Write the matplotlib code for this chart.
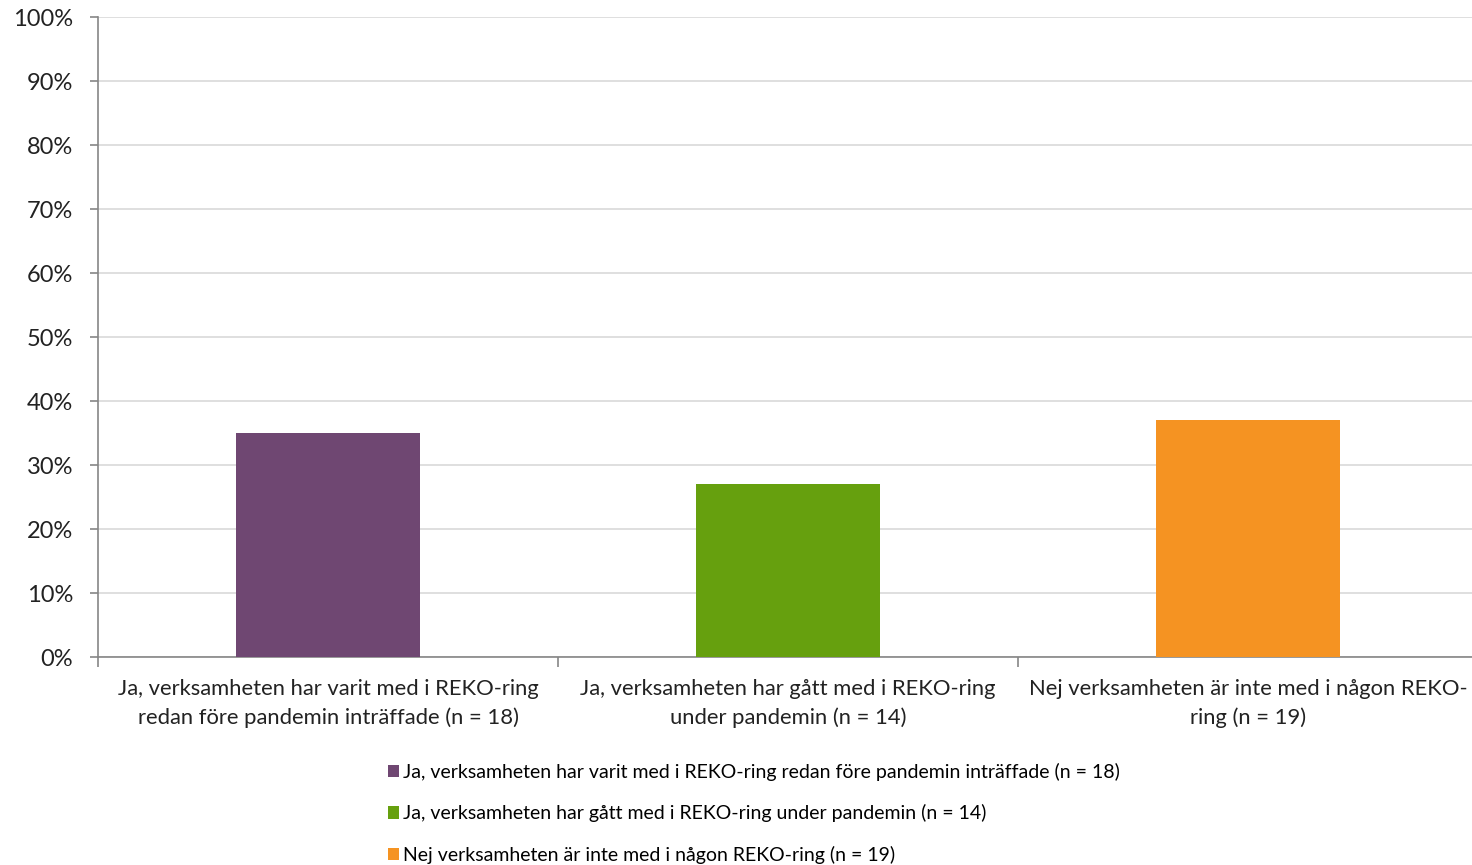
import numpy as np
import matplotlib
matplotlib.use("Agg")
import matplotlib.pyplot as plt
from matplotlib.patches import Patch

# data
categories = [
    "Ja, verksamheten har varit med i REKO-ring\nredan före pandemin inträffade (n = 18)",
    "Ja, verksamheten har gått med i REKO-ring\nunder pandemin (n = 14)",
    "Nej verksamheten är inte med i någon REKO-\nring (n = 19)",
]
legend_labels = [
    "Ja, verksamheten har varit med i REKO-ring redan före pandemin inträffade (n = 18)",
    "Ja, verksamheten har gått med i REKO-ring under pandemin (n = 14)",
    "Nej verksamheten är inte med i någon REKO-ring (n = 19)",
]
values = [35, 27, 37]
colors = ["#6F4772", "#66A00E", "#F59322"]
y_ticks = list(range(0, 101, 10))

plt.rcParams["font.family"] = ["Lato", "DejaVu Sans"]

W, H = 1472, 865
fig = plt.figure(figsize=(W / 100, H / 100), dpi=100)
ax = fig.add_axes([98 / W, (H - 657) / H, 1380 / W, 640 / H])

x = np.arange(len(values))
ax.bar(x, values, width=0.40, color=colors, zorder=3)

ax.set_xlim(-0.5, len(values) - 0.5)
ax.set_ylim(0, 100)
ax.set_yticks(y_ticks)
ax.set_yticklabels([f"{v}%" for v in y_ticks], fontsize=17, color="#222222")
ax.yaxis.grid(True, color="#D9D9D9", linewidth=1.2, zorder=0)

# category boundaries as ticks, labels at centres
ax.set_xticks(np.arange(-0.5, len(values), 1.0))
ax.set_xticklabels([])
ax.set_xticks(x, minor=True)
ax.set_xticklabels(categories, minor=True, fontsize=15.8, color="#222222")
for lbl in ax.get_xticklabels(minor=True):
    lbl.set_linespacing(1.5)
ax.tick_params(axis="x", which="major", length=7, color="#868686", width=1.2)
ax.tick_params(axis="x", which="minor", length=0, pad=16)
ax.tick_params(axis="y", length=6, color="#868686", width=1.2, pad=12)

for s in ["top", "right"]:
    ax.spines[s].set_visible(False)
for s in ["left", "bottom"]:
    ax.spines[s].set_color("#868686")
    ax.spines[s].set_linewidth(1.2)

handles = [Patch(facecolor=c) for c in colors]
fig.legend(handles, legend_labels, loc="upper left",
           bbox_to_anchor=(380 / W, (H - 755) / H), frameon=False,
           fontsize=14, handlelength=0.6, handleheight=0.6,
           handletextpad=0.2, labelspacing=1.2, borderaxespad=0)

fig.savefig("out.png", dpi=100, facecolor="white")
